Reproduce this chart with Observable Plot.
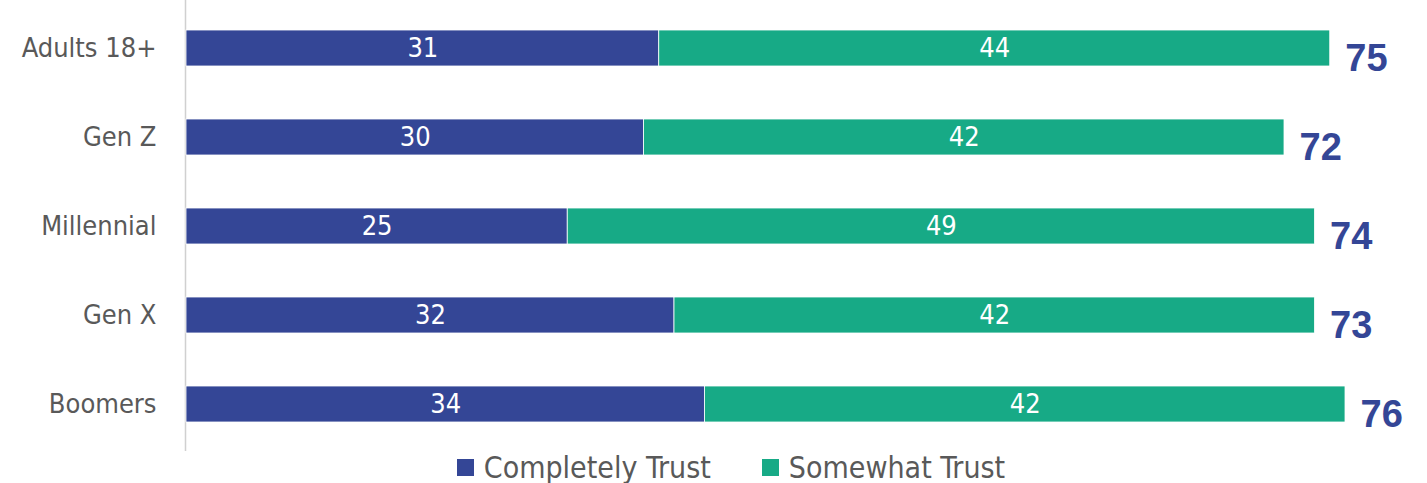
<!DOCTYPE html>
<html><head><meta charset="utf-8">
<script src="https://cdn.jsdelivr.net/npm/d3@7"></script>
<script src="https://cdn.jsdelivr.net/npm/@observablehq/plot@0.6"></script>
<style>
body{margin:0;background:#fff;font-family:"Liberation Sans Narrow","DejaVu Sans Condensed",sans-serif;}
#legend{display:flex;justify-content:center;align-items:center;gap:51px;padding-left:35px;height:32px;font-size:30px;color:#595959;}
#legend span.sw{display:inline-block;width:17px;height:17px;margin-right:10px;}
#legend div{display:flex;align-items:center;}
</style></head><body>
<div id="chart"></div>
<div id="legend"></div>
<script>
const categories = ["Adults 18+","Gen Z","Millennial","Gen X","Boomers"];
const completely = [31,30,25,32,34];
const somewhat = [44,42,49,42,42];
const totals = [75,72,74,73,76];
const seriesNames = ["Completely Trust","Somewhat Trust"];
const colors = ["#344696","#17AA86"];

const rows = [];
categories.forEach((c,i)=>{
  rows.push({cat:c, series:seriesNames[0], x1:0, x2:completely[i], v:completely[i]});
  rows.push({cat:c, series:seriesNames[1], x1:completely[i], x2:completely[i]+somewhat[i], v:somewhat[i]});
});
const tot = categories.map((c,i)=>({cat:c, total:totals[i], end:completely[i]+somewhat[i]}));

const chart = Plot.plot({
  width:1427, height:451,
  marginLeft:186, marginRight:21, marginTop:0, marginBottom:0,
  style:{fontFamily:'"Liberation Sans Narrow","DejaVu Sans Condensed",sans-serif', background:"#fff"},
  x:{domain:[0,80], axis:null},
  y:{domain:categories, paddingInner:0.6, paddingOuter:0.327, label:null},
  color:{domain:seriesNames, range:colors},
  marks:[
    Plot.ruleX([0],{stroke:"#d0d0d0", strokeWidth:1.5, dx:-1}),
    Plot.barX(rows,{y:"cat", x1:"x1", x2:"x2", fill:"series", stroke:"#fff", strokeWidth:0.8}),
    Plot.text(rows,{y:"cat", x:d=>(d.x1+d.x2)/2, text:d=>String(d.v), fill:"white", fontSize:27}),
    Plot.text(tot,{y:"cat", x:"end", text:d=>String(d.total), textAnchor:"start", dx:15, dy:10, fill:"#344696", fontSize:38, fontWeight:"bold", fontFamily:'"Liberation Sans","DejaVu Sans",sans-serif'}),
    Plot.axisY({tickSize:0, tickPadding:30, fontSize:27, color:"#595959", label:null})
  ]
});
document.getElementById("chart").appendChild(chart);

const lg = document.getElementById("legend");
seriesNames.forEach((s,i)=>{
  const d=document.createElement("div");
  d.innerHTML=`<span class="sw" style="background:${colors[i]}"></span>${s}`;
  lg.appendChild(d);
});
</script>
</body></html>
